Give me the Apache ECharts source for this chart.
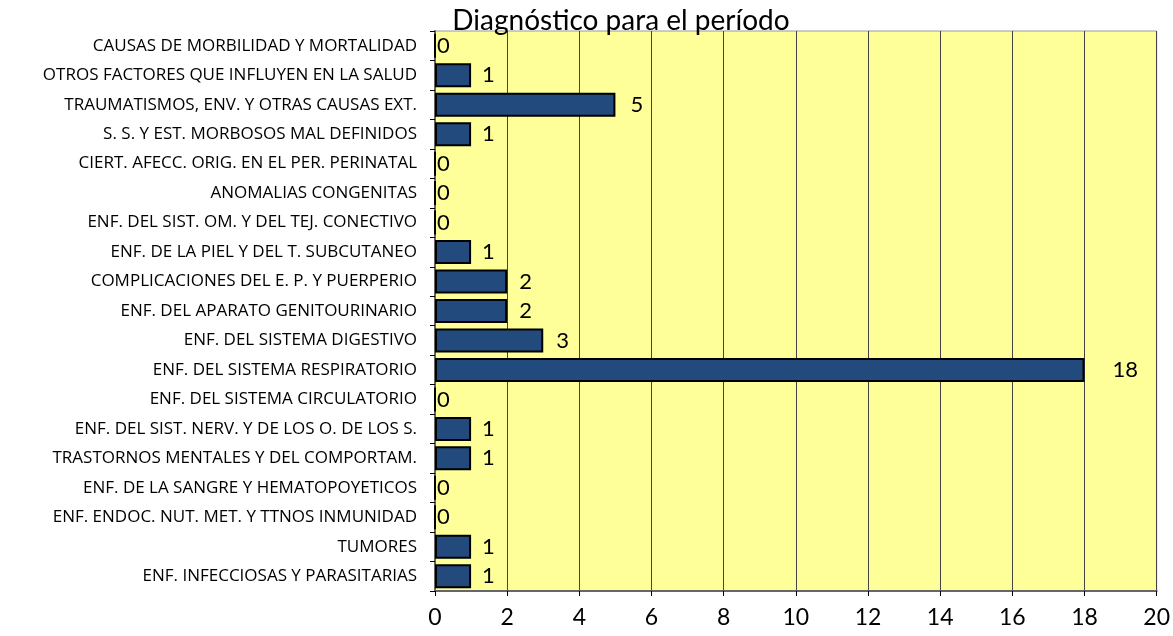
<!DOCTYPE html>
<html>
<head>
<meta charset="utf-8">
<script src="https://cdn.jsdelivr.net/npm/echarts@6/dist/echarts.min.js"></script>
<style>
  html, body { margin: 0; padding: 0; background: #fff; }
  #chart { width: 1173px; height: 636px; }
</style>
</head>
<body>
<div id="chart"></div>
<script>
// categorias de abajo hacia arriba
var categorias = [
  "ENF. INFECCIOSAS Y PARASITARIAS",
  "TUMORES",
  "ENF. ENDOC. NUT. MET. Y TTNOS INMUNIDAD",
  "ENF. DE LA SANGRE Y HEMATOPOYETICOS",
  "TRASTORNOS MENTALES Y DEL COMPORTAM.",
  "ENF. DEL SIST. NERV. Y DE LOS O. DE LOS S.",
  "ENF. DEL SISTEMA CIRCULATORIO",
  "ENF. DEL SISTEMA RESPIRATORIO",
  "ENF. DEL SISTEMA DIGESTIVO",
  "ENF. DEL APARATO GENITOURINARIO",
  "COMPLICACIONES DEL E. P. Y PUERPERIO",
  "ENF. DE LA PIEL Y DEL T. SUBCUTANEO",
  "ENF. DEL SIST. OM. Y DEL TEJ. CONECTIVO",
  "ANOMALIAS CONGENITAS",
  "CIERT. AFECC. ORIG. EN EL PER. PERINATAL",
  "S. S. Y EST. MORBOSOS MAL DEFINIDOS",
  "TRAUMATISMOS, ENV. Y OTRAS CAUSAS EXT.",
  "OTROS FACTORES QUE INFLUYEN EN LA SALUD",
  "CAUSAS DE MORBILIDAD Y MORTALIDAD"
];
var casos = [1, 1, 0, 0, 1, 1, 0, 18, 3, 2, 2, 1, 0, 0, 0, 1, 5, 1, 0];
var titulo = "Diagnóstico para el período";

var chart = echarts.init(document.getElementById('chart'));

// separacion de la etiqueta, como la pone excel (los ceros pegados al eje)
var datos = casos.map(function (v) {
  var d = v === 0 ? 1 : (v >= 10 ? 28 : 10 + v);
  return { value: v, label: { distance: d } };
});

var option = {
  animation: false,
  backgroundColor: '#fff',
  title: {
    text: titulo,
    left: 616,
    top: 2,
    textAlign: 'center',
    textStyle: { fontFamily: 'Lato', fontWeight: 'normal', fontSize: 28, color: '#000' }
  },
  grid: { left: 435, right: 16, top: 31, bottom: 45, containLabel: false,
          show: true, backgroundColor: '#FFFF99', borderColor: '#999', borderWidth: 1 },
  xAxis: {
    type: 'value',
    min: 0, max: 20, interval: 2,
    axisLine: { show: true, lineStyle: { color: '#666', width: 2 } },
    axisTick: { show: true, length: 5, lineStyle: { color: '#000' } },
    splitLine: { show: true, lineStyle: { color: '#444', width: 1 } },
    axisLabel: { fontFamily: 'Lato', fontSize: 23, color: '#000', margin: 15 }
  },
  yAxis: {
    type: 'category',
    data: categorias,
    axisLine: { show: true, lineStyle: { color: '#666', width: 2 } },
    axisTick: { show: true, length: 5, lineStyle: { color: '#000' } },
    axisLabel: { fontFamily: 'Open Sans', fontSize: 17, color: '#000', margin: 18 }
  },
  series: [{
    type: 'bar',
    data: datos,
    barWidth: 24,
    itemStyle: { color: '#224A7C', borderColor: '#000', borderWidth: 2 },
    label: {
      show: true, position: 'right',
      fontFamily: 'Lato', fontSize: 22, color: '#000'
    }
  }]
};
chart.setOption(option);
</script>
</body>
</html>
